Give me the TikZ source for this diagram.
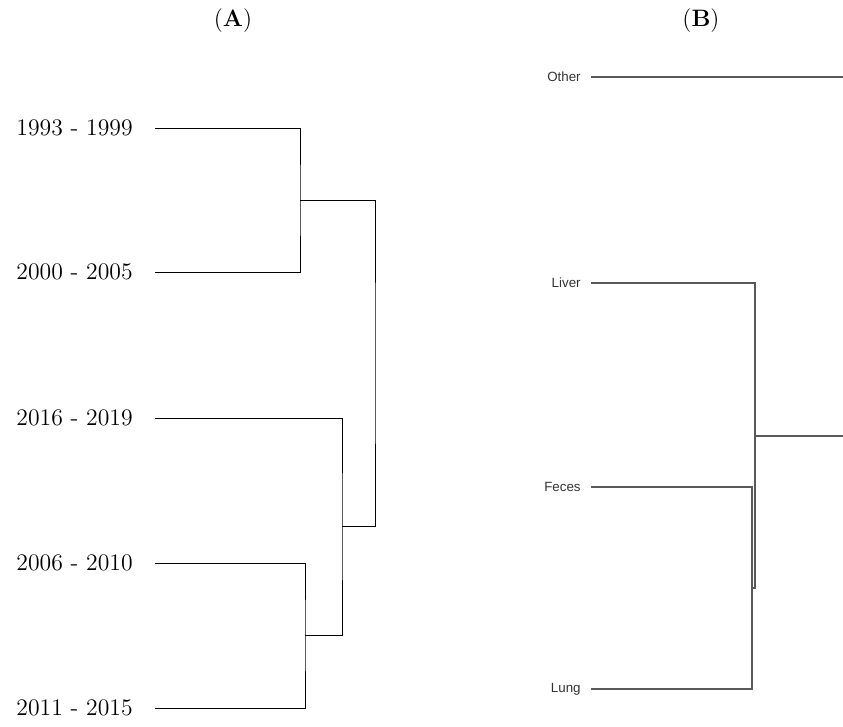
\documentclass[tikz,border=0pt]{standalone}
\usepackage{fontspec}
\newfontfamily\tissuefont{Liberation Sans}
\usepackage{tikz}
\usetikzlibrary{calc}

\tikzset{
  period/.style={anchor=east,inner ysep=0.16cm,inner xsep=0.44cm,font=\fontsize{13.5}{15}\selectfont},
  tissue/.style={anchor=east,inner sep=0.2cm,text=black!80,font=\tissuefont\fontsize{7.6}{9}\selectfont},
  panel/.style={font=\fontsize{13.5}{15}\selectfont},
  tree/.style={line width=0.45pt},
  treeb/.style={line width=0.6pt,draw=black!65}
}

\begin{document}
\begin{tikzpicture}[x=0.02cm,y=-0.02cm]
      \useasboundingbox (0,0) rectangle (843,727);
      \node [panel] (pa) at (233,21) {(\textbf{A})};
      \node [panel] (pb) at (701,21) {(\textbf{B})};
      % periods
      \node [period] (y93) at (155,128) {1993 - 1999};
      \node [period] (y00) at (155,272) {2000 - 2005};
      \node [period] (y16) at (155,418) {2016 - 2019};
      \node [period] (y06) at (155,563) {2006 - 2010};
      \node [period] (y11) at (155,708) {2011 - 2015};
      \coordinate (j1) at (300,200);
      \coordinate (j2) at (305,635);
      \coordinate (j3) at (342,526);
      \coordinate (j4) at (375,363);
      \draw [tree]
        (y93.east) -| (j1) |- (y00.east)
        (y06.east) -| (j2) |- (y11.east)
        (y16.east) -| (j3) |- (j2)
        (j1) -| (j4) |- (j3);
      % tissues
      \node [tissue] (oth) at (591,77) {Other};
      \node [tissue] (liv) at (591,283) {Liver};
      \node [tissue] (fec) at (591,487) {Feces};
      \node [tissue] (lun) at (591,689) {Lung};
      \coordinate (k1) at (752,588);
      \coordinate (k2) at (755,436);
      \coordinate (kout) at (843,436);
      \coordinate (oout) at (843,77);
      \draw [treeb]
        (oth.east) -- (oout)
        (fec.east) -| (k1) |- (lun.east)
        (liv.east) -| (k2) |- (k1)
        (k2) -- (kout);
    \end{tikzpicture}
\end{document}
